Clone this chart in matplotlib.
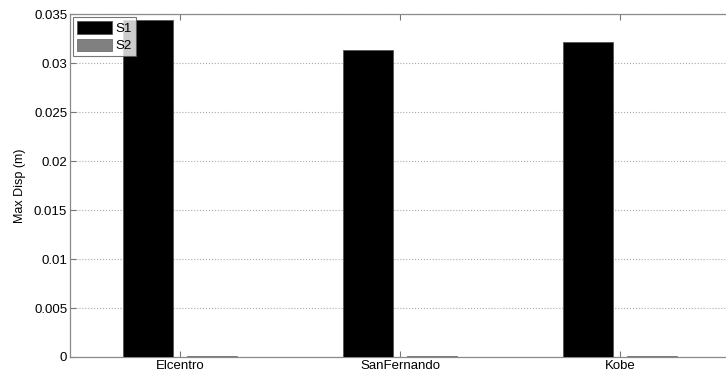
import numpy as np
import matplotlib
matplotlib.use('Agg')
import matplotlib.pyplot as plt

# Peak displacement per ground motion record
records = ['Elcentro', 'SanFernando', 'Kobe']
s1_disp = [0.0344, 0.0313, 0.0322]
s2_disp = [0.00012, 0.00012, 0.00012]

plt.rcParams['font.family'] = ['Liberation Sans', 'DejaVu Sans']

fig = plt.figure(figsize=(7.26, 3.78), dpi=100)
ax = fig.add_axes([0.0964, 0.0556, 0.909, 0.907])

x = np.arange(1, len(records) + 1)
width = 0.23
ax.bar(x - 0.145, s1_disp, width, color='black', edgecolor='#555555', linewidth=0.6, label='S1', zorder=3)
ax.bar(x + 0.145, s2_disp, width, color='#808080', edgecolor='#707070', linewidth=0.6, label='S2', zorder=3)

ax.set_xlim(0.5, 3.5)
ax.set_ylim(0, 0.035)
ax.set_xticks(x)
ax.set_xticklabels(records)
yt = np.arange(0, 0.0351, 0.005)
ax.set_yticks(yt)
ax.set_yticklabels(['0'] + ['%g' % v for v in yt[1:]])
ax.tick_params(direction='in', length=4, color='#777777', labelsize=9.5, pad=2,
               top=True, right=False)
ax.grid(axis='y', linestyle=':', color='#aaaaaa', linewidth=0.8, zorder=0)
for s in ax.spines.values():
    s.set_color('#8a8a8a')
    s.set_linewidth(0.9)

ax.set_ylabel('Max Disp (m)', fontsize=9, labelpad=6)

leg = ax.legend(loc='upper left', fontsize=9.5, frameon=True, fancybox=False,
                borderpad=0.3, handlelength=2.6, handleheight=1.1, handletextpad=0.3,
                labelspacing=0.25, borderaxespad=0.25)
leg.get_frame().set_edgecolor('#555555')
leg.get_frame().set_linewidth(0.8)

fig.savefig('out.png', dpi=100)
